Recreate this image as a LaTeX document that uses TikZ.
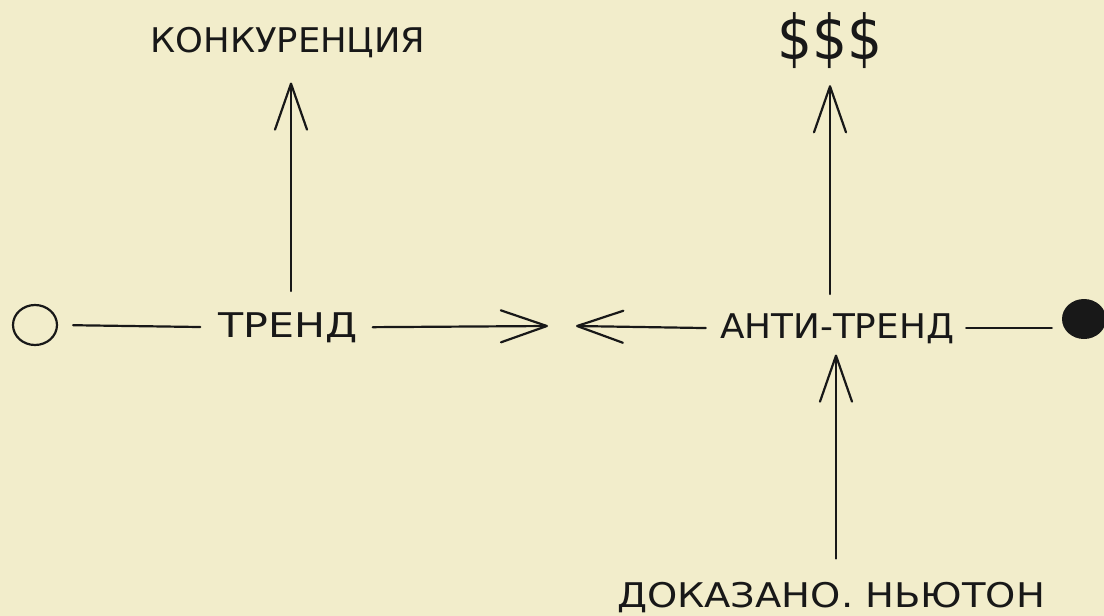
\documentclass[tikz,border=0pt]{standalone}
\usepackage{fontspec}
\setmainfont{DejaVu Sans}
\usetikzlibrary{arrows.meta,shapes.geometric}
\definecolor{paper}{RGB}{242,237,203}
\definecolor{ink}{RGB}{24,24,24}
\newcommand{\fitw}[2]{\resizebox{#1}{\height}{#2}}
\begin{document}
\begin{tikzpicture}[x=1pt,y=-1pt,
  lbl/.style={inner sep=0pt, text=ink, font=\fontsize{34}{40}\selectfont},
  ln/.style={draw=ink, line width=2.2pt, line cap=round, line join=round},
  arr/.style={ln, -{Straight Barb[length=46pt,width=32pt,round]}},
  dot/.style={ellipse, inner sep=0pt, minimum width=44pt, minimum height=40pt, line width=2.2pt}]
\fill[paper] (0,0) rectangle (1104,616);
\useasboundingbox (0,0) rectangle (1104,616);

\node[lbl, anchor=base] (konk) at (288,52) {\fitw{275pt}{КОНКУРЕНЦИЯ}};
\node[lbl] (dollars) at (830,41) {\resizebox*{105pt}{56pt}{\$\$\$}};
\node[lbl, anchor=base] (trend) at (288,337) {\fitw{139pt}{ТРЕНД}};
\node[lbl, anchor=base] (anti) at (837,338) {\fitw{234pt}{АНТИ-ТРЕНД}};
\node[lbl, anchor=base] (proof) at (831,607) {\fitw{428pt}{ДОКАЗАНО. НЬЮТОН}};
\node[dot, draw=ink] (c1) at (35,325) {};
\node[dot, fill=ink] (c2) at (1084,319) {};
\coordinate (m1) at (548,326);
\coordinate (m2) at (576,326);

\draw[ln, shorten <=15pt, shorten >=18pt] (c1.east) -- (trend.west);
\draw[arr, shorten <=15pt] (trend.east) -- (m1);
\draw[arr, shorten <=14pt] (anti.west) -- (m2);
\draw[ln, shorten <=12pt, shorten >=9pt] (anti.east) -- (c2.west |- anti.east);
\draw[arr, shorten <=21pt, shorten >=25pt] ([xshift=3pt]trend.north) -- ([xshift=3pt]konk.south);
\draw[arr, shorten <=19pt, shorten >=16pt] ([xshift=-7pt]anti.north) -- ([xshift=0pt]dollars.south);
\draw[arr, shorten <=23pt, shorten >=11pt] ([xshift=5pt]proof.north) -- ([xshift=-1pt]anti.south);
\end{tikzpicture}
\end{document}
